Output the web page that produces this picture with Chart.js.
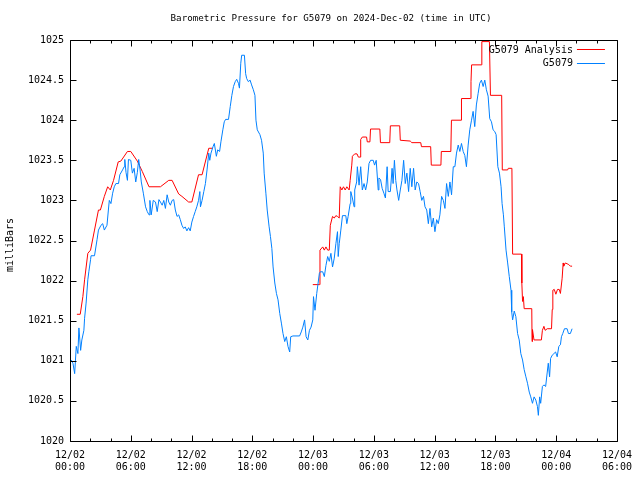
<!DOCTYPE html>
<html><head><meta charset="utf-8">
<script src="https://cdn.jsdelivr.net/npm/chart.js@4"></script>
<style>html,body{margin:0;padding:0;background:#fff}canvas{display:block}</style>
</head><body>
<canvas id="c" width="640" height="480"></canvas>
<script>
const chartTitle = 'Barometric Pressure for G5079 on 2024-Dec-02 (time in UTC)';
const yAxisTitle = 'milliBars';
const seriesNames = ['G5079 Analysis', 'G5079'];
const seriesColors = ['#ff0000', '#0080ff'];
const xTickDates = ['12/02','12/02','12/02','12/02','12/03','12/03','12/03','12/03','12/04','12/04'];
const xTickTimes = ['00:00','06:00','12:00','18:00','00:00','06:00','12:00','18:00','00:00','06:00'];
const yTickLabels = ['1020','1020.5','1021','1021.5','1022','1022.5','1023','1023.5','1024','1024.5','1025'];

// hours since 12/02 00:00 UTC
const analysisHours = [0.68,1.01,1.27,1.44,1.76,2.03,2.42,2.81,3.00,3.39,3.72,3.98,4.30,4.76,5.02,5.67,6.00,6.65,7.14,7.80,8.93,9.75,10.08,10.73,11.05,11.71,12.03,12.69,13.04,13.70,14.09,
  19.0,
  23.97,24.62,24.68,24.95,25.11,25.27,25.44,25.60,25.70,25.92,26.09,26.25,26.41,26.58,26.68,26.84,27.00,27.17,27.33,27.56,27.66,27.82,27.88,28.11,28.34,28.47,28.64,28.70,28.86,29.28,29.35,29.61,29.67,30.59,30.65,31.57,31.63,32.55,32.61,33.59,33.75,34.63,34.70,35.61,35.67,36.62,36.66,37.60,37.66,38.61,38.65,39.56,39.59,39.65,40.60,40.66,41.41,41.51,42.62,42.68,43.21,43.27,43.63,43.70,44.58,44.61,44.68,44.76,44.84,45.59,45.62,45.66,45.81,46.54,46.64,46.79,46.91,47.12,47.54,47.61,47.67,47.81,47.97,48.13,48.30,48.42,48.59,48.69,48.74,48.91,49.08,49.24,49.40,49.57];
const analysisValues = [1021.58,1021.58,1021.80,1022.01,1022.34,1022.38,1022.63,1022.88,1022.88,1023.05,1023.17,1023.13,1023.25,1023.48,1023.49,1023.61,1023.61,1023.49,1023.36,1023.17,1023.17,1023.25,1023.25,1023.08,1023.05,1022.98,1022.98,1023.32,1023.32,1023.65,1023.65,
  null,
  1021.95,1021.95,1022.38,1022.42,1022.38,1022.42,1022.38,1022.38,1022.69,1022.80,1022.78,1022.81,1022.80,1022.78,1023.17,1023.13,1023.17,1023.13,1023.17,1023.13,1023.25,1023.44,1023.55,1023.58,1023.58,1023.54,1023.54,1023.76,1023.79,1023.79,1023.73,1023.73,1023.89,1023.89,1023.72,1023.72,1023.93,1023.93,1023.75,1023.74,1023.72,1023.72,1023.67,1023.67,1023.44,1023.44,1023.61,1023.61,1024.00,1024.00,1024.27,1024.27,1024.48,1024.69,1024.69,1024.98,1024.98,1024.31,1024.31,1023.38,1023.38,1023.40,1023.40,1022.33,1022.33,1021.97,1021.74,1021.80,1021.65,1021.65,1021.24,1021.39,1021.26,1021.26,1021.38,1021.43,1021.38,1021.40,1021.40,1021.64,1021.88,1021.89,1021.83,1021.89,1021.89,1021.84,1022.03,1022.22,1022.18,1022.22,1022.21,1022.20,1022.18,1022.18];

const obsHours = [0.13,0.29,0.46,0.62,0.78,0.88,1.05,1.17,1.37,1.44,1.59,1.76,1.86,2.03,2.08,2.42,2.67,2.81,3.06,3.23,3.39,3.65,3.79,3.88,4.04,4.21,4.37,4.53,4.79,4.92,5.19,5.35,5.41,5.53,5.67,5.77,6.00,6.16,6.33,6.49,6.65,6.78,6.92,7.04,7.24,7.46,7.63,7.80,7.89,8.02,8.22,8.44,8.61,8.78,8.93,9.10,9.26,9.42,9.59,9.75,9.91,10.08,10.24,10.40,10.57,10.73,10.89,11.05,11.22,11.38,11.54,11.71,11.87,12.03,12.20,12.36,12.52,12.69,12.82,12.88,13.04,13.21,13.37,13.53,13.70,13.80,13.92,14.12,14.25,14.45,14.58,14.77,14.90,15.09,15.23,15.36,15.65,15.82,15.98,16.14,16.31,16.46,16.63,16.73,16.86,16.95,17.22,17.34,17.44,17.61,17.78,17.93,18.10,18.26,18.36,18.49,18.75,18.91,19.08,19.17,19.34,19.47,19.66,19.79,19.93,20.05,20.22,20.38,20.54,20.71,20.87,21.03,21.20,21.36,21.52,21.69,21.79,22.01,22.67,22.83,22.99,23.16,23.31,23.48,23.64,23.80,23.97,24.04,24.19,24.36,24.62,24.72,24.95,25.11,25.27,25.44,25.60,25.76,25.92,26.09,26.25,26.41,26.48,26.58,26.74,26.90,27.23,27.33,27.46,27.66,27.72,27.88,28.05,28.11,28.30,28.37,28.54,28.70,28.86,29.03,29.19,29.35,29.52,29.68,29.94,30.07,30.23,30.43,30.50,30.66,30.82,30.99,31.14,31.31,31.41,31.63,31.80,31.90,32.03,32.16,32.28,32.45,32.61,32.77,32.94,33.10,33.26,33.43,33.59,33.75,33.92,34.08,34.24,34.41,34.57,34.73,34.90,35.05,35.22,35.38,35.54,35.71,35.87,36.03,36.20,36.36,36.52,36.69,36.86,37.02,37.18,37.35,37.51,37.67,37.84,38.00,38.16,38.33,38.49,38.65,38.82,38.98,39.14,39.31,39.47,39.64,39.80,39.96,40.12,40.29,40.45,40.62,40.79,40.95,41.11,41.28,41.44,41.61,41.77,41.93,42.07,42.24,42.40,42.56,42.66,42.79,42.88,43.05,43.21,43.37,43.54,43.61,43.70,43.86,44.02,44.19,44.35,44.51,44.68,44.84,45.01,45.17,45.34,45.49,45.66,45.82,45.99,46.15,46.24,46.37,46.47,46.64,46.79,46.96,47.12,47.22,47.35,47.45,47.61,47.78,47.94,48.10,48.26,48.42,48.52,48.65,48.82,49.08,49.21,49.40,49.57];
const obsValues = [1021.01,1020.97,1020.84,1021.18,1021.09,1021.41,1021.13,1021.26,1021.38,1021.53,1021.72,1022.01,1022.11,1022.26,1022.31,1022.31,1022.51,1022.63,1022.69,1022.71,1022.63,1022.69,1022.88,1023.00,1022.96,1023.09,1023.17,1023.21,1023.21,1023.32,1023.38,1023.42,1023.51,1023.35,1023.25,1023.51,1023.50,1023.34,1023.40,1023.23,1023.35,1023.51,1023.38,1023.23,1023.09,1022.92,1022.86,1022.82,1023.00,1022.82,1023.00,1022.98,1022.86,1023.01,1022.98,1022.94,1023.00,1022.90,1023.07,1022.98,1022.94,1023.00,1023.01,1022.88,1022.80,1022.82,1022.76,1022.69,1022.65,1022.67,1022.62,1022.66,1022.62,1022.73,1022.80,1022.86,1022.92,1023.00,1023.11,1022.92,1023.00,1023.11,1023.21,1023.38,1023.59,1023.50,1023.59,1023.67,1023.71,1023.55,1023.63,1023.61,1023.73,1023.88,1023.98,1024.01,1024.01,1024.17,1024.31,1024.42,1024.48,1024.51,1024.46,1024.40,1024.71,1024.81,1024.81,1024.58,1024.52,1024.48,1024.50,1024.44,1024.38,1024.31,1024.00,1023.88,1023.82,1023.75,1023.59,1023.34,1023.09,1022.88,1022.67,1022.55,1022.40,1022.17,1021.97,1021.84,1021.76,1021.59,1021.47,1021.34,1021.24,1021.30,1021.18,1021.11,1021.30,1021.31,1021.31,1021.36,1021.42,1021.51,1021.30,1021.26,1021.38,1021.42,1021.51,1021.80,1021.63,1021.84,1022.09,1022.11,1022.11,1022.05,1022.19,1022.30,1022.24,1022.34,1022.17,1022.28,1022.46,1022.61,1022.30,1022.46,1022.63,1022.81,1022.81,1022.71,1022.80,1022.96,1023.11,1023.03,1022.92,1023.13,1023.23,1023.42,1023.19,1023.42,1023.13,1023.21,1023.13,1023.23,1023.46,1023.50,1023.50,1023.44,1023.50,1023.13,1023.28,1023.26,1023.15,1023.09,1023.03,1023.42,1023.11,1023.11,1023.40,1023.21,1023.50,1023.25,1023.13,1023.00,1023.13,1023.25,1023.50,1023.21,1023.34,1023.11,1023.40,1023.17,1023.40,1023.13,1023.23,1023.21,1023.11,1023.00,1023.05,1022.92,1022.88,1022.71,1022.90,1022.67,1022.78,1022.61,1022.76,1022.71,1022.82,1023.05,1023.00,1022.90,1023.21,1023.05,1023.23,1023.07,1023.42,1023.42,1023.59,1023.69,1023.61,1023.71,1023.61,1023.56,1023.42,1023.69,1023.88,1024.00,1024.11,1023.92,1024.19,1024.33,1024.46,1024.50,1024.42,1024.50,1024.38,1024.30,1024.02,1023.98,1023.88,1023.86,1023.82,1023.42,1023.34,1023.17,1022.96,1022.82,1022.67,1022.38,1022.22,1022.05,1021.88,1021.61,1021.51,1021.62,1021.55,1021.34,1021.26,1021.09,1021.01,1020.89,1020.80,1020.72,1020.61,1020.55,1020.47,1020.55,1020.51,1020.43,1020.32,1020.55,1020.47,1020.68,1020.70,1020.68,1020.86,1020.97,1020.80,1021.03,1021.07,1021.09,1021.11,1021.05,1021.18,1021.20,1021.30,1021.34,1021.40,1021.40,1021.34,1021.34,1021.40];

const FONT = "'DejaVu Sans Mono', 'Liberation Mono', monospace";
const FSIZE = 10;
const TITLE_FSIZE = 9.2;

const framePlugin = {
  id: 'frame',
  afterDraw(chart) {
    const { ctx, chartArea: a, scales: { x, y } } = chart;
    ctx.save();
    ctx.strokeStyle = '#000';
    ctx.lineWidth = 1;
    const L = Math.round(a.left) + 0.5, R = Math.round(a.right) + 0.5;
    const T = Math.round(a.top) + 0.5, B = Math.round(a.bottom) + 0.5;
    ctx.beginPath();
    ctx.rect(L, T, R - L, B - T);
    for (let h = x.min; h <= x.max + 1e-9; h += 2) {
      const px = Math.round(x.getPixelForValue(h)) + 0.5;
      const len = (Math.round(h) % 6 === 0) ? 6 : 3;
      ctx.moveTo(px, B); ctx.lineTo(px, B - len);
      ctx.moveTo(px, T); ctx.lineTo(px, T + len);
    }
    for (let v = y.min; v <= y.max + 1e-9; v += 0.5) {
      const py = Math.round(y.getPixelForValue(v)) + 0.5;
      ctx.moveTo(L, py); ctx.lineTo(L + 6, py);
      ctx.moveTo(R, py); ctx.lineTo(R - 6, py);
    }
    ctx.stroke();

    ctx.fillStyle = '#000';
    ctx.textBaseline = 'middle';
    // title
    ctx.font = TITLE_FSIZE + 'px ' + FONT;
    ctx.textAlign = 'center';
    ctx.fillText(chartTitle, 331, 19);
    // y axis title
    ctx.font = FSIZE + 'px ' + FONT;
    ctx.save();
    ctx.translate(10, 245);
    ctx.rotate(-Math.PI / 2);
    ctx.fillText(yAxisTitle, 0, 0);
    ctx.restore();
    // legend
    ctx.textAlign = 'right';
    const items = [chart.data.datasets[1], chart.data.datasets[0]];
    items.forEach((ds, i) => {
      const ly = a.top + 9 + i * 13.5;
      ctx.fillStyle = '#000';
      ctx.fillText(ds.label, a.right - 44, ly + 1);
      ctx.strokeStyle = ds.borderColor;
      ctx.beginPath();
      ctx.moveTo(a.right - 40, Math.round(ly) + 0.5);
      ctx.lineTo(a.right - 12, Math.round(ly) + 0.5);
      ctx.stroke();
    });
    ctx.restore();
  }
};

new Chart(document.getElementById('c'), {
  type: 'line',
  data: {
    datasets: [
      {
        label: seriesNames[1],
        data: obsHours.map((h, i) => ({ x: h, y: obsValues[i] })),
        borderColor: seriesColors[1], borderWidth: 1, pointRadius: 0, tension: 0, fill: false
      },
      {
        label: seriesNames[0],
        data: analysisHours.map((h, i) => ({ x: h, y: analysisValues[i] })),
        borderColor: seriesColors[0], borderWidth: 1, pointRadius: 0, tension: 0, fill: false, spanGaps: false
      }
    ]
  },
  options: {
    responsive: false,
    animation: false,
    events: [],
    layout: { padding: { top: 40, right: 18, bottom: 0, left: 0 } },
    plugins: { legend: { display: false }, title: { display: false }, tooltip: { enabled: false } },
    scales: {
      x: {
        type: 'linear', min: 0, max: 54,
        grid: { display: false, drawTicks: false },
        border: { display: false },
        afterFit(s) { s.height = 39; },
        afterBuildTicks(s) { s.ticks = xTickDates.map((d, i) => ({ value: i * 6 })); },
        ticks: {
          padding: 8,
          maxRotation: 0, autoSkip: false,
          color: '#000',
          font: { family: FONT, size: FSIZE, lineHeight: 1.2 },
          callback: (v) => { const i = Math.round(v / 6); return [xTickDates[i], xTickTimes[i]]; }
        }
      },
      y: {
        type: 'linear', min: 1020, max: 1025,
        grid: { display: false, drawTicks: false },
        border: { display: false },
        afterFit(s) { s.width = 70; },
        ticks: {
          stepSize: 0.5, padding: 6, color: '#000',
          font: { family: FONT, size: FSIZE },
          callback: (v) => yTickLabels[Math.round((v - 1020) * 2)]
        }
      }
    }
  },
  plugins: [framePlugin]
});
</script>
</body></html>
